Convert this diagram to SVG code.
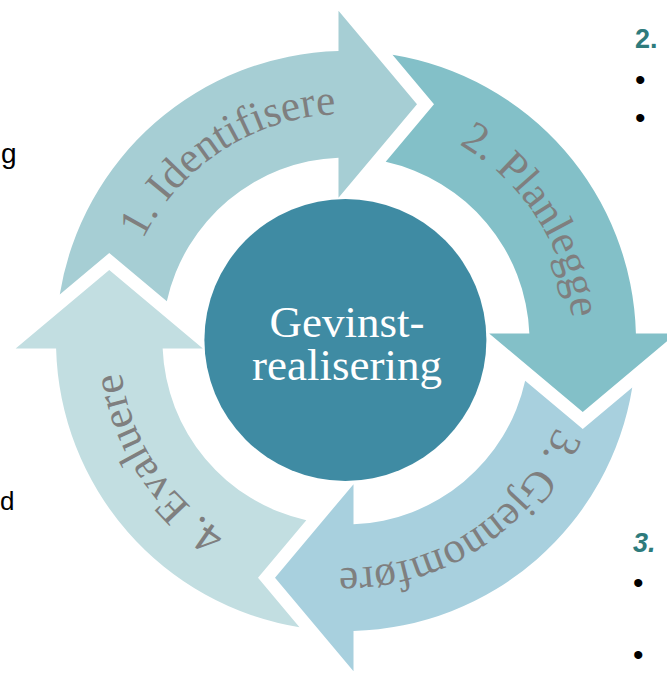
<svg xmlns="http://www.w3.org/2000/svg" width="667" height="679" viewBox="0 0 667 679">
  <style>
    .lbl { font-family: "Liberation Serif", "DejaVu Serif", serif; font-size: 43.5px; fill: #7f7f7f; }
    .ctr { font-family: "Liberation Serif", "DejaVu Serif", serif; font-size: 45px; fill: #ffffff; text-anchor: middle; }
    .side { font-family: "Liberation Sans", Arial, sans-serif; fill: #000000; }
    .head { font-family: "Liberation Sans", Arial, sans-serif; font-weight: bold; font-size: 27px; fill: #2e7b7c; }
    .bul { font-family: "Liberation Sans", Arial, sans-serif; font-size: 30px; fill: #000000; }
  </style>
  <defs>
    <path id="arrowShape" d="M 71,-236.75 L -7.5,-143.15 L -7.5,-183.35 A 183.5 183.5 0 0 0 -179.17,-39.71 L -236.75,-88 L -286.25,-46.5 A 290 290 0 0 1 -7.5,-289.9 L -7.5,-330.35 Z"/>
    <path id="tp" d="M -226.69,11.88 A 227 227 0 0 1 103.06,-202.26"/>
  </defs>

  <g id="arrow1" transform="translate(346,341)">
    <use href="#arrowShape" fill="#a6ced4"/>
    <text class="lbl"><textPath href="#tp" startOffset="50%" text-anchor="middle">1. Identifisere</textPath></text>
  </g>
  <g id="arrow2" transform="translate(346,341) rotate(90)">
    <use href="#arrowShape" fill="#83c0c8"/>
    <text class="lbl"><textPath href="#tp" startOffset="50%" text-anchor="middle">2. Planlegge</textPath></text>
  </g>
  <g id="arrow3" transform="translate(346,341) rotate(180)">
    <use href="#arrowShape" fill="#a8d0de"/>
    <text class="lbl"><textPath href="#tp" startOffset="50%" text-anchor="middle">3. Gjennomføre</textPath></text>
  </g>
  <g id="arrow4" transform="translate(346,341) rotate(270)">
    <use href="#arrowShape" fill="#c2dee1"/>
    <text class="lbl"><textPath href="#tp" startOffset="50%" text-anchor="middle">4. Evaluere</textPath></text>
  </g>

  <g id="center">
    <circle cx="345.4" cy="340" r="141" fill="#3f8ba3"/>
    <text class="ctr" x="347" y="336.5">Gevinst-</text>
    <text class="ctr" x="347" y="380">realisering</text>
  </g>

  <g id="side-left">
    <text class="side" x="1" y="163" font-size="28">g</text>
    <text class="side" x="0" y="510" font-size="26">d</text>
  </g>

  <g id="side-right">
    <text class="head" x="635" y="48.3">2.</text>
    <text class="bul" x="635" y="90">•</text>
    <text class="bul" x="635" y="128">•</text>
    <text class="head" x="633" y="551.5" font-style="italic">3.</text>
    <text class="bul" x="633" y="593">•</text>
    <text class="bul" x="633" y="664.5">•</text>
  </g>
</svg>
